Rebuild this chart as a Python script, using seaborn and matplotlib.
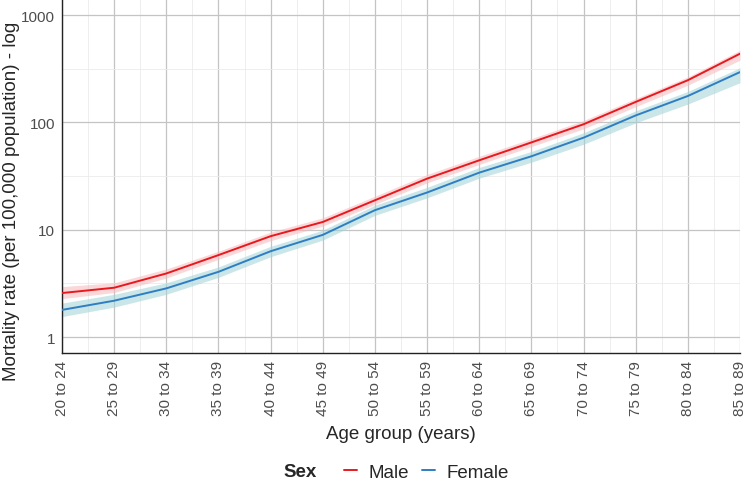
import numpy as np
import pandas as pd
import matplotlib
matplotlib.use("Agg")
import matplotlib.pyplot as plt
import seaborn as sns
from matplotlib.ticker import FixedLocator, NullFormatter

# Age groups on the x axis
age_groups = ['20 to 24', '25 to 29', '30 to 34', '35 to 39', '40 to 44', '45 to 49',
              '50 to 54', '55 to 59', '60 to 64', '65 to 69', '70 to 74', '75 to 79',
              '80 to 84', '85 to 89']

# Mortality rate per 100,000 with lower / upper bounds
male_rate = [2.57, 2.88, 3.91, 5.8, 8.7, 11.8, 18.8, 29.9, 44.3, 65, 96, 155, 247, 436]
male_lower = [2.28, 2.6, 3.55, 5.3, 7.9, 10.8, 17.2, 27.3, 40.5, 59.5, 87, 140, 222, 380]
male_upper = [2.95, 3.2, 4.3, 6.3, 9.5, 12.9, 20.5, 32.7, 48.3, 70.5, 104, 167, 265, 470]

female_rate = [1.79, 2.18, 2.84, 4.05, 6.3, 8.95, 15.2, 22.2, 34.0, 48.3, 72, 116, 176, 294]
female_lower = [1.55, 1.9, 2.5, 3.6, 5.6, 8.0, 13.6, 19.8, 30.2, 42.5, 62.5, 99, 148, 234]
female_upper = [2.07, 2.5, 3.2, 4.5, 7.0, 9.9, 16.9, 24.8, 38.0, 53.5, 80, 128, 194, 323]

sexes = ['Male', 'Female']
line_colors = {'Male': '#E8191E', 'Female': '#2E7EC1'}
ribbon_colors = {'Male': '#F7B8BA', 'Female': '#9FD3D8'}

df = pd.DataFrame({
    'age': age_groups * 2,
    'sex': ['Male'] * len(age_groups) + ['Female'] * len(age_groups),
    'rate': male_rate + female_rate,
    'lower': male_lower + female_lower,
    'upper': male_upper + female_upper,
})

sns.set_style("white")
plt.rcParams['font.family'] = ['Liberation Sans', 'DejaVu Sans']

fig = plt.figure(figsize=(7.5, 4.85), dpi=100)
ax = fig.add_axes([62 / 750, 1 - 354 / 485, (740 - 62) / 750, 354 / 485])

# gridlines first so they sit underneath
ax.set_axisbelow(True)
pos = np.arange(len(age_groups))

# ribbons
for sex in sexes:
    sub = df[df['sex'] == sex]
    ax.fill_between(pos, sub['lower'], sub['upper'], color=ribbon_colors[sex],
                    alpha=0.55, linewidth=0, zorder=2)

sns.lineplot(data=df, x='age', y='rate', hue='sex', hue_order=sexes,
             palette=line_colors, linewidth=1.4, ax=ax, legend=False, zorder=3)

ax.set_yscale('log')
ax.set_ylim(0.71, 1410)
ax.set_xlim(0, len(age_groups) - 1)

ax.set_yticks([1, 10, 100, 1000])
ax.set_yticklabels(['1', '10', '100', '1000'])
ax.yaxis.set_minor_locator(FixedLocator([10 ** 0.5, 10 ** 1.5, 10 ** 2.5]))
ax.yaxis.set_minor_formatter(NullFormatter())
ax.set_xticks(pos)
ax.set_xticklabels(age_groups, rotation=90)
ax.xaxis.set_minor_locator(FixedLocator(pos[:-1] + 0.5))

ax.grid(which='major', color='#C4C4C4', linewidth=0.9)
ax.grid(which='minor', color='#EBEBEB', linewidth=0.6)

ax.tick_params(axis='both', which='major', labelsize=11, labelcolor='#4D4D4D',
               color='#333333', length=3, width=0.8, pad=2)
ax.tick_params(axis='both', which='minor', length=0)

for side in ['top', 'right']:
    ax.spines[side].set_visible(False)
for side in ['left', 'bottom']:
    ax.spines[side].set_color('#222222')
    ax.spines[side].set_linewidth(1.0)

ax.set_xlabel('')
ax.set_ylabel('')
fig.text(401 / 750, 1 - 435 / 485, 'Age group (years)', fontsize=13.5,
         ha='center', va='center')
fig.text(12 / 750, 1 - 201 / 485, 'Mortality rate (per 100,000 population) - log',
         fontsize=13.5, rotation=90, ha='center', va='center')

# legend at the bottom, title on the left
fig.text(283 / 750, 1 - 473 / 485, 'Sex', fontsize=13.5, fontweight='bold',
         va='center', ha='left')
handles = [plt.Line2D([], [], color=line_colors[s], linewidth=1.4) for s in sexes]
fig.legend(handles, sexes, loc='center left', bbox_to_anchor=(344 / 750, 1 - 473 / 485),
           ncol=2, frameon=False, fontsize=13.5, handlelength=0.7, handletextpad=0.6,
           columnspacing=0.7, borderpad=0, borderaxespad=0)

fig.savefig('out.png', dpi=100)
